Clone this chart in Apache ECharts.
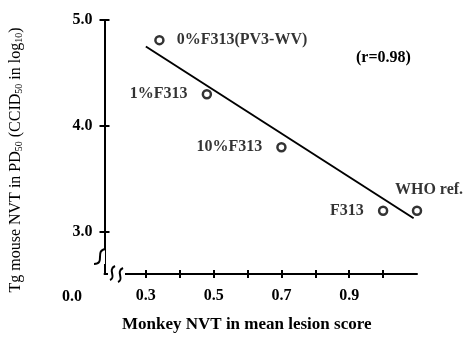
<!DOCTYPE html>
<html>
<head>
<meta charset="utf-8">
<script src="https://cdn.jsdelivr.net/npm/echarts@6/dist/echarts.min.js"></script>
<style>html,body{margin:0;padding:0;background:#fff}#c{width:464px;height:346px}</style>
</head>
<body>
<div id="c"></div>
<script>
// ---- data ----
var labels = ['0%F313(PV3-WV)', '1%F313', '10%F313', 'F313', 'WHO ref.'];
var monkeyNVT = [0.34, 0.48, 0.70, 1.00, 1.10];
var mouseNVT = [4.81, 4.30, 3.80, 3.20, 3.20];
var fitX = [0.30, 1.09];
var fitY = [4.75, 3.13];
var xTickValues = [0.3, 0.4, 0.5, 0.6, 0.7, 0.8, 0.9, 1.0];
var xLabelValues = [0.3, 0.5, 0.7, 0.9];
var yTickValues = [3.0, 4.0, 5.0];
var rText = '(r=0.98)';

var FONT = 'Liberation Serif';
var chart = echarts.init(document.getElementById('c'));

var labelStyles = [
  {position: 'right', distance: 12},
  {position: 'left', distance: 14},
  {position: 'left', distance: 14},
  {position: 'left', distance: 14},
  {position: 'top', distance: 8, offset: [12, 0]}
];

var scatterData = labels.map(function (name, i) {
  var ls = labelStyles[i];
  return {
    name: name,
    value: [monkeyNVT[i], mouseNVT[i]],
    label: Object.assign({show: true, formatter: name, color: '#000', fontFamily: FONT, fontSize: 16, fontWeight: 'bold'}, ls)
  };
});

var axisCommon = {
  type: 'value',
  splitLine: {show: false},
  axisLine: {show: true, onZero: false, lineStyle: {color: '#000', width: 2}},
};

chart.setOption({
  animation: false,
  backgroundColor: '#fff',
  grid: {left: 100, top: 20, right: 47, bottom: 72, containLabel: false},
  xAxis: [
    Object.assign({}, axisCommon, {
      min: 0.178, max: 1.1,
      name: 'Monkey NVT in mean lesion score',
      nameLocation: 'middle', nameGap: 42,
      nameTextStyle: {color: '#000', fontFamily: FONT, fontSize: 17, fontWeight: 'bold', padding: [0, 28, 0, 0]},
      axisTick: {show: true, customValues: xTickValues, length: 4, lineStyle: {color: '#000', width: 2}},
      axisLabel: {show: true, customValues: xLabelValues, color: '#000', fontFamily: FONT, fontSize: 16, fontWeight: 'bold', margin: 14,
        formatter: function (v) { return v.toFixed(1); }}
    }),
    Object.assign({}, axisCommon, {
      min: 0.178, max: 1.1, position: 'bottom',
      axisLine: {show: false},
      axisTick: {show: true, inside: true, customValues: xTickValues, length: 4, lineStyle: {color: '#000', width: 2}},
      axisLabel: {show: false}
    })
  ],
  yAxis: [
    Object.assign({}, axisCommon, {
      min: 2.604, max: 5.0,
      name: 'Tg mouse NVT in PD{s|50} (CCID{s|50} in log{s|10})',
      nameLocation: 'middle', nameGap: 80, nameRotate: 90,
      nameTextStyle: {color: '#000', fontFamily: FONT, fontSize: 16, padding: [0, 26, 0, 0],
        rich: {s: {fontFamily: FONT, fontSize: 10, color: '#000', verticalAlign: 'bottom', padding: [7, 0, 0, 0]}}},
      axisTick: {show: true, customValues: yTickValues, length: 5, lineStyle: {color: '#000', width: 2}},
      axisLabel: {show: true, customValues: yTickValues, color: '#000', fontFamily: FONT, fontSize: 16, fontWeight: 'bold', margin: 12,
        formatter: function (v) { return v.toFixed(1); }}
    }),
    Object.assign({}, axisCommon, {
      min: 2.604, max: 5.0, position: 'left',
      axisLine: {show: false},
      axisTick: {show: true, inside: true, customValues: yTickValues, length: 5, lineStyle: {color: '#000', width: 2}},
      axisLabel: {show: false}
    })
  ],
  series: [
    {
      type: 'line',
      data: fitX.map(function (x, i) { return [x, fitY[i]]; }),
      symbol: 'none',
      lineStyle: {color: '#000', width: 2},
      clip: false,
      z: 2
    },
    {
      type: 'scatter',
      data: scatterData,
      symbol: 'circle',
      symbolSize: 8,
      itemStyle: {color: '#fff', borderColor: '#000', borderWidth: 2.5},
      clip: false,
      z: 3
    }
  ],
  graphic: [
    {type: 'text', left: 356, top: 50, style: {text: rText, fill: '#000', font: 'bold 16px "' + FONT + '"'}},
    {type: 'text', left: 62, top: 289, style: {text: '0.0', fill: '#000', font: 'bold 16px "' + FONT + '"'}},
    // y-axis break
    {type: 'rect', shape: {x: 96, y: 250, width: 9, height: 14}, style: {fill: '#fff'}, z: 100},
    {type: 'bezierCurve', shape: {x1: 94, y1: 264, x2: 106, y2: 249, cpx1: 106, cpy1: 264, cpx2: 94, cpy2: 250},
      style: {stroke: '#000', lineWidth: 2, fill: 'none'}, z: 101},
    // x-axis break
    {type: 'rect', shape: {x: 108, y: 270, width: 17, height: 9}, style: {fill: '#fff'}, z: 100},
    {type: 'bezierCurve', shape: {x1: 110, y1: 280, x2: 115, y2: 266, cpx1: 117, cpy1: 277, cpx2: 107, cpy2: 270},
      style: {stroke: '#000', lineWidth: 2, fill: 'none'}, z: 101},
    {type: 'bezierCurve', shape: {x1: 118, y1: 282, x2: 123, y2: 268, cpx1: 125, cpy1: 279, cpx2: 115, cpy2: 272},
      style: {stroke: '#000', lineWidth: 2, fill: 'none'}, z: 101}
  ]
});
</script>
</body>
</html>
